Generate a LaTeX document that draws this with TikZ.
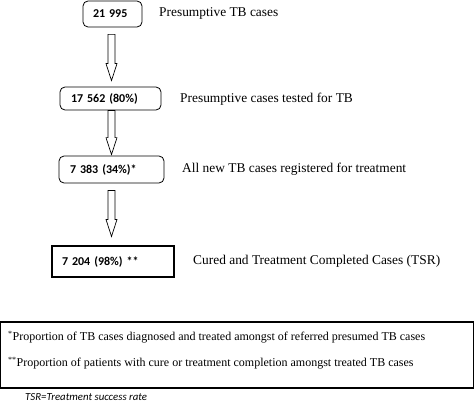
\documentclass[tikz,border=0pt]{standalone}
\usepackage{fontspec}
\setmainfont{Liberation Serif}
\newfontfamily\calibri{Carlito}
\usetikzlibrary{calc,positioning}
\tikzset{countbox/.style={draw, rounded corners=5pt, line width=.8pt,
    font=\calibri\bfseries\fontsize{12}{14}\selectfont, align=left,
    inner xsep=10pt, inner ysep=0pt}}
\tikzset{stagelabel/.style={anchor=west, inner sep=0pt,
    font=\fontsize{13.4}{16}\selectfont}}
\tikzset{notelabel/.style={anchor=west, inner sep=0pt,
    font=\fontsize{12}{14}\selectfont}}
\tikzset{flowarrow/.style={draw, line width=.7pt, fill=white}}
% hollow block arrow: #1 top of shaft, #2 tip
\newcommand{\flowdown}[2]{%
  \draw[flowarrow] ($(#1)+(-3.5,0)$) -- ($(#1)+(3.5,0)$)
  -- ($(#2)+(3.5,17)$) -- ($(#2)+(5.5,17)$) -- (#2)
  -- ($(#2)+(-5.5,17)$) -- ($(#2)+(-3.5,17)$) -- cycle;}

\begin{document}
\begin{tikzpicture}[x=1pt,y=1pt]
  \useasboundingbox (0,0) rectangle (474,408);

  \node[countbox, text width=39pt, minimum height=26pt] (presumptive) at (112.5,394) {21 995};
  \node[countbox, text width=79pt, inner xsep=11pt, minimum height=23pt] (tested) at (110.5,309.5) {17 562 (80\%)};
  \node[countbox, text width=83pt, inner xsep=11pt, minimum height=27pt] (registered) at (111.5,238.5) {7 383 (34\%)*};
  \node[countbox, rounded corners=0pt, line width=1.1pt, text width=102pt, minimum height=31pt] (completed) at (113,146.5) {7 204 (98\%) **\\[6pt]};

  \node[stagelabel] (lpresumptive) at (159,395) {Presumptive TB cases};
  \node[stagelabel] (ltested) at (180,309) {Presumptive cases tested for TB};
  \node[stagelabel] (lregistered) at (182,239) {All new TB cases registered for treatment};
  \node[stagelabel] (lcompleted) at (193,147) {Cured and Treatment Completed Cases (TSR)};

  \coordinate (a1) at ($(presumptive.south)+(-1,-7)$);
  \coordinate (t1) at ($(tested.north)+(1,6)$);
  \coordinate (a2) at ($(tested.south)+(1,0)$);
  \coordinate (t2) at ($(registered.north)+(0,1)$);
  \coordinate (a3) at ($(registered.south)+(0,-7)$);
  \coordinate (t3) at ($(completed.north)+(-1.5,9)$);
  \flowdown{a1}{t1}
  \flowdown{a2}{t2}
  \flowdown{a3}{t3}

  %\draw[very thin] (0,0) rectangle (474,408);
  \node[draw, line width=1.1pt, minimum width=473pt, minimum height=66pt, inner sep=0pt] (notes) at (237,53) {};
  \node[notelabel] (note1) at ($(notes.west)+(8,18)$) {\textsuperscript{*}Proportion of TB cases diagnosed and treated amongst of referred presumed TB cases};
  \node[notelabel] (note2) at ($(notes.west)+(8,-8)$) {\textsuperscript{**}Proportion of patients with cure or treatment completion amongst treated TB cases};

  \node[anchor=west, inner sep=0pt, font=\calibri\itshape\fontsize{10.8}{13}\selectfont] (tsr) at (25,11) {TSR=Treatment success rate};
\end{tikzpicture}
\end{document}
